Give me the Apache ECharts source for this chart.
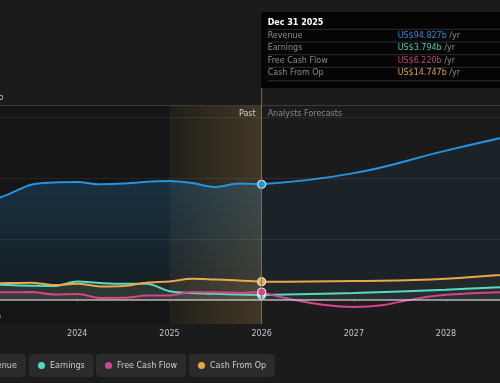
<!DOCTYPE html>
<html><head><meta charset="utf-8">
<script src="https://cdn.jsdelivr.net/npm/echarts@6/dist/echarts.min.js"></script>
<style>html,body{margin:0;padding:0;background:#1b1b1b;}#c{width:500px;height:383px;}</style>
</head><body><div id="c"></div>
<script>
// ---- data ----
const pastYears = [2023.0, 2023.25, 2023.5, 2023.75, 2024.0, 2024.25, 2024.5, 2024.75, 2025.0, 2025.25, 2025.5, 2025.75, 2026.0];
const revenuePast = [79.5, 86.5, 94.5, 96.3, 96.7, 94.8, 95.4, 97.0, 97.5, 95.8, 92.6, 95.4, 94.827];
const earningsPast = [12.5, 12.0, 11.5, 11.2, 15.0, 13.7, 13.0, 13.0, 7.0, 5.4, 4.8, 4.3, 3.794];
const fcfPast = [6.0, 6.1, 6.2, 4.3, 4.6, 1.4, 1.5, 3.4, 3.5, 6.4, 6.0, 5.6, 6.22];
const cfoPast = [13.0, 13.6, 14.0, 12.0, 13.1, 10.9, 11.3, 14.0, 15.0, 17.2, 16.5, 15.8, 14.747];

const forecastYears = [2026, 2027, 2028, 2029];
const revenueForecast = [94.827, 104.0, 122.5, 140.0];
const earningsForecast = [3.794, 5.5, 8.2, 11.8];
const fcfForecast = [6.22, -6.0, 4.1, 6.5];
const cfoForecast = [14.747, 15.3, 17.2, 23.0];

const seriesNames = ['Revenue', 'Earnings', 'Free Cash Flow', 'Cash From Op'];
const xTickValues = [2023, 2024, 2025, 2026, 2027, 2028, 2029];
const xTickLabels = ['2023', '2024', '2025', '2026', '2027', '2028', '2029'];
const yTickValues = [-20, 160];
const yTickLabels = ['-US$20b', 'US$160b'];
const gridValues = [0, 50, 100, 150];
const tooltipDate = 'Dec 31 2025';
const pastLabel = 'Past';
const forecastLabel = 'Analysts Forecasts';
const unitSuffix = '/yr';

// ---- styling ----
const colors = ['#2394df', '#56dcc0', '#d2468b', '#eaa84e'];
const rgb = [[35,148,223],[86,220,192],[210,70,139],[234,168,78]];
const valueColors = ['#2a8fd4', '#4fc9ad', '#c4437f', '#dc9f4a'];
const FONT = 'DejaVu Sans';
const pastSets = [revenuePast, earningsPast, fcfPast, cfoPast];
const foreSets = [revenueForecast, earningsForecast, fcfForecast, cfoForecast];

const chart = echarts.init(document.getElementById('c'), null, {renderer: 'canvas'});

const series = [];
// past overlay (darker)
series.push({type: 'line', data: [], z: 0, silent: true,
  markArea: {silent: true, itemStyle: {color: 'rgba(0,0,0,0.2)'}, data: [[{xAxis: 2023}, {xAxis: 2026}]]}});
// golden band
series.push({type: 'line', data: [], z: 1, silent: true,
  markArea: {silent: true, itemStyle: {color: new echarts.graphic.LinearGradient(0, 0, 1, 0, [
    {offset: 0, color: 'rgba(180,145,80,0.08)'}, {offset: 1, color: 'rgba(180,145,80,0.28)'}])},
    data: [[{xAxis: 2025}, {xAxis: 2026}]]}});
// grid lines
series.push({type: 'line', data: [], z: 2, silent: true,
  markLine: {silent: true, symbol: ['none', 'none'], label: {show: false}, animation: false,
    lineStyle: {color: 'rgba(255,255,255,0.07)', width: 1, type: 'solid'},
    data: gridValues.filter(v => v !== 0).map(v => ({yAxis: v})).concat([
      {yAxis: 160, lineStyle: {color: '#3a3a3a', width: 1, type: 'solid'}},
      {xAxis: 2026, lineStyle: {color: 'rgba(140,115,70,0.9)', width: 1, type: 'solid'}}
    ])}});

seriesNames.forEach((name, i) => {
  const c = colors[i], r = rgb[i];
  const pastArea = i === 0
    ? {color: new echarts.graphic.LinearGradient(0, 0, 0, 1, [
        {offset: 0, color: `rgba(${r},0.3)`}, {offset: 1, color: `rgba(${r},0.08)`}])}
    : {color: `rgba(${r},0.12)`};
  const foreArea = i === 0 ? {color: `rgba(${r},0.1)`} : {color: `rgba(${r},0.06)`};
  const last = pastYears.length - 1;
  series.push({
    name, type: 'line', smooth: 0.35, z: 3 + (i === 0 ? 0 : 1),
    lineStyle: {width: 2, color: c}, itemStyle: {color: c}, areaStyle: pastArea,
    emphasis: {disabled: true},
    data: pastYears.map((x, j) => j === last
      ? {value: [x, pastSets[i][j]], symbol: 'circle', symbolSize: 8,
         itemStyle: {color: c, borderColor: 'rgba(235,235,235,0.9)', borderWidth: 1.3}}
      : {value: [x, pastSets[i][j]], symbol: 'none'})
  });
  series.push({
    name, type: 'line', smooth: 0.45, z: 2 + (i === 0 ? 0 : 1), showSymbol: false,
    lineStyle: {width: 2, color: c}, itemStyle: {color: c}, areaStyle: foreArea,
    emphasis: {disabled: true},
    data: forecastYears.map((x, j) => [x, foreSets[i][j]])
  });
});
// zero line on top
series.push({type: 'line', data: [], z: 8, silent: true,
  markLine: {silent: true, symbol: ['none', 'none'], label: {show: false}, animation: false,
    lineStyle: {color: 'rgba(215,215,215,0.8)', width: 1.5, type: 'solid'},
    data: [{yAxis: gridValues[0]}]}});

const legendLefts = [-39, 29, 96, 189];
const legends = seriesNames.map((n, i) => ({
  data: [n], left: legendLefts[i], top: 354, orient: 'horizontal',
  backgroundColor: '#2b2b2b', borderRadius: 4, padding: [7, 9, 7, 9],
  itemWidth: 7, itemHeight: 7, itemGap: 0, icon: 'circle', selectedMode: false,
  textStyle: {color: '#cccccc', fontSize: 8, fontFamily: FONT, lineHeight: 9}
}));

chart.setOption({
  animation: false,
  backgroundColor: '#1b1b1b',
  textStyle: {fontFamily: FONT},
  grid: {left: -14.9, right: -38.2, top: 105, bottom: 59, containLabel: false, outerBoundsMode: 'none'},
  xAxis: {type: 'value', min: 2023, max: 2029, interval: 1,
    axisLine: {show: true, lineStyle: {color: '#333'}},
    axisTick: {show: true, length: 3, lineStyle: {color: '#444'}},
    splitLine: {show: false},
    axisLabel: {color: '#c4c4c4', fontSize: 8, fontFamily: FONT, margin: 6,
      formatter: v => { const k = xTickValues.indexOf(Math.round(v)); return k >= 0 ? xTickLabels[k] : ''; }}},
  yAxis: {type: 'value', min: -20, max: 160, interval: 20,
    axisLine: {show: false}, axisTick: {show: false}, splitLine: {show: false},
    axisLabel: {color: '#c4c4c4', fontSize: 8, fontFamily: FONT, align: 'left', verticalAlign: 'bottom', margin: 18.1,
      padding: [0, 0, 3, 0],
      formatter: v => { const k = yTickValues.indexOf(v); return k >= 0 ? yTickLabels[k] : ''; }}},
  legend: legends,
  series
});

// ---- overlay graphics positioned through the axes ----
const x26 = chart.convertToPixel({xAxisIndex: 0}, 2026);
const yTop = chart.convertToPixel({yAxisIndex: 0}, 160);
const boxTop = 12, boxBottom = 88;
const rowY = [35.7, 48.3, 61.3, 73.3];
const sepY = [29.3, 42, 54.7, 67.3, 80.7];
const lastVals = pastSets.map(a => a[a.length - 1]);
const gfx = [];
gfx.push({type: 'line', silent: true, z: 10, shape: {x1: x26, y1: boxBottom, x2: x26, y2: yTop},
  style: {stroke: 'rgba(140,115,70,0.9)', lineWidth: 1}});
gfx.push({type: 'rect', silent: true, z: 20, shape: {x: x26 - 0.5, y: boxTop, width: 500 - x26 + 10, height: boxBottom - boxTop},
  style: {fill: '#050505'}});
sepY.forEach(y => gfx.push({type: 'line', silent: true, z: 21, shape: {x1: x26 + 6, y1: y, x2: 500, y2: y},
  style: {stroke: '#2e2e2e', lineWidth: 1}}));
function txt(text, x, y, fill, font, align) {
  return {type: 'text', silent: true, z: 22, x: x, y: y,
    style: {text, fill, font, align: align || 'left', verticalAlign: 'middle',
      textAlign: align || 'left', textVerticalAlign: 'middle'}};
}
gfx.push(txt(tooltipDate, x26 + 6, 22.7, '#ffffff', `bold 8px "${FONT}"`));
seriesNames.forEach((n, i) => {
  gfx.push(txt(n, x26 + 6, rowY[i], '#8e8e8e', `8px "${FONT}"`));
  gfx.push({type: 'text', silent: true, z: 22, x: x26 + 136, y: rowY[i],
    style: {text: `{v|US$${lastVals[i].toFixed(3)}b} {u|${unitSuffix}}`, font: `8px "${FONT}"`,
      verticalAlign: 'middle', textVerticalAlign: 'middle',
      rich: {v: {fill: valueColors[i], color: valueColors[i], font: `8px "${FONT}"`},
             u: {fill: '#8e8e8e', color: '#8e8e8e', font: `8px "${FONT}"`}}}});
});
gfx.push(txt(pastLabel, x26 - 6, 114, '#d2d2d2', `8px "${FONT}"`, 'right'));
gfx.push(txt(forecastLabel, x26 + 6, 114, '#8a8a8a', `8px "${FONT}"`, 'left'));
chart.setOption({graphic: gfx});
</script>
</body></html>
